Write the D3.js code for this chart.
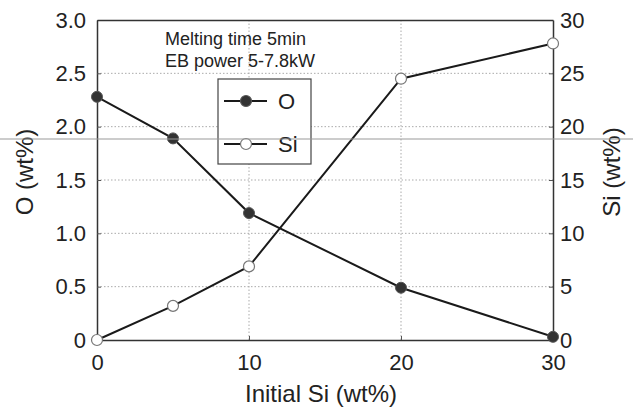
<!DOCTYPE html>
<html>
<head>
<meta charset="utf-8">
<script src="https://cdn.jsdelivr.net/npm/d3@7"></script>
<style>
  body { margin: 0; background: #fff; }
  svg { display: block; font-family: 'Liberation Sans', Arial, sans-serif; }
</style>
</head>
<body>
<div id="chart"></div>
<script>
// initial Si content (wt%)
const initialSi = [0, 5, 10, 20, 30];
// oxygen in product (wt%) - left axis
const oxygen = [2.28, 1.89, 1.19, 0.49, 0.03];
// silicon in product (wt%) - right axis
const silicon = [0, 3.2, 6.9, 24.5, 27.8];

const xTicks = [0, 10, 20, 30];
const oTicks = [0, 0.5, 1.0, 1.5, 2.0, 2.5, 3.0];
const siTicks = [0, 5, 10, 15, 20, 25, 30];

const width = 633;
const height = 410;
const margin = { top: 20, right: 80, bottom: 70, left: 97 };

const svg = d3.select('#chart')
  .append('svg')
  .attr('width', width)
  .attr('height', height);

const x = d3.scaleLinear().domain([0, 30]).range([margin.left, width - margin.right]);
const yO = d3.scaleLinear().domain([0, 3]).range([height - margin.bottom, margin.top]);
const ySi = d3.scaleLinear().domain([0, 30]).range([height - margin.bottom, margin.top]);

// dotted grid
const grid = svg.append('g')
  .attr('stroke', '#aaa')
  .attr('stroke-width', 1)
  .attr('stroke-dasharray', '1.5,2');
grid.selectAll('line.h')
  .data(oTicks.filter((d) => d > 0 && d < 3))
  .join('line')
  .attr('class', 'h')
  .attr('x1', x(0))
  .attr('x2', x(30))
  .attr('y1', (d) => yO(d))
  .attr('y2', (d) => yO(d));
grid.selectAll('line.v')
  .data(xTicks.filter((d) => d > 0 && d < 30))
  .join('line')
  .attr('class', 'v')
  .attr('y1', yO(0))
  .attr('y2', yO(3))
  .attr('x1', (d) => x(d))
  .attr('x2', (d) => x(d));

// axes
const fmtO = (d) => (d === 0 ? '0' : d3.format('.1f')(d));

svg.append('g')
  .attr('transform', `translate(${margin.left},0)`)
  .call(d3.axisLeft(yO).tickValues(oTicks).tickFormat(fmtO).tickSizeInner(-4).tickSizeOuter(0).tickPadding(11));

svg.append('g')
  .attr('transform', `translate(${width - margin.right},0)`)
  .call(d3.axisRight(ySi).tickValues(siTicks).tickSizeInner(-4).tickSizeOuter(0).tickPadding(7));

svg.append('g')
  .attr('transform', `translate(0,${height - margin.bottom})`)
  .call(d3.axisBottom(x).tickValues(xTicks).tickSizeInner(-4).tickSizeOuter(0).tickPadding(14));

svg.append('g')
  .attr('transform', `translate(0,${margin.top})`)
  .call(d3.axisTop(x).tickValues([]).tickSizeOuter(0));

svg.selectAll('.tick text')
  .attr('font-size', 22)
  .attr('font-family', "'Liberation Sans', Arial, sans-serif")
  .attr('fill', '#222');
svg.selectAll('.domain').attr('stroke', '#333').attr('stroke-width', 1.5);
svg.selectAll('.tick line').attr('stroke', '#555');

// axis titles
svg.append('text')
  .attr('transform', `translate(33,${(yO(0) + yO(3)) / 2 - 8}) rotate(-90)`)
  .attr('text-anchor', 'middle')
  .attr('font-size', 24)
  .attr('fill', '#222')
  .text('O (wt%)');

svg.append('text')
  .attr('transform', `translate(620,${(yO(0) + yO(3)) / 2 - 8}) rotate(-90)`)
  .attr('text-anchor', 'middle')
  .attr('font-size', 24)
  .attr('fill', '#222')
  .text('Si (wt%)');

svg.append('text')
  .attr('x', 321)
  .attr('y', 402)
  .attr('text-anchor', 'middle')
  .attr('font-size', 24)
  .attr('fill', '#222')
  .text('Initial Si (wt%)');

// annotation
const note = svg.append('text')
  .attr('font-size', 18)
  .attr('fill', '#222');
note.append('tspan').attr('x', 165).attr('y', 45).text('Melting time 5min');
note.append('tspan').attr('x', 165).attr('y', 67).text('EB power 5-7.8kW');

// lines
const lineO = d3.line().x((d, i) => x(initialSi[i])).y((d) => yO(d));
const lineSi = d3.line().x((d, i) => x(initialSi[i])).y((d) => ySi(d));

svg.append('path')
  .datum(oxygen)
  .attr('d', lineO)
  .attr('fill', 'none')
  .attr('stroke', '#1a1a1a')
  .attr('stroke-width', 2);

svg.append('path')
  .datum(silicon)
  .attr('d', lineSi)
  .attr('fill', 'none')
  .attr('stroke', '#1a1a1a')
  .attr('stroke-width', 2);

svg.selectAll('circle.o')
  .data(oxygen)
  .join('circle')
  .attr('class', 'o')
  .attr('cx', (d, i) => x(initialSi[i]))
  .attr('cy', (d) => yO(d))
  .attr('r', 5.5)
  .attr('fill', '#333')
  .attr('stroke', '#555')
  .attr('stroke-width', 1);

svg.selectAll('circle.si')
  .data(silicon)
  .join('circle')
  .attr('class', 'si')
  .attr('cx', (d, i) => x(initialSi[i]))
  .attr('cy', (d) => ySi(d))
  .attr('r', 5.5)
  .attr('fill', '#fff')
  .attr('stroke', '#777')
  .attr('stroke-width', 1.2);

// legend
const legend = svg.append('g').attr('transform', 'translate(218,79)');
legend.append('rect')
  .attr('width', 93)
  .attr('height', 85)
  .attr('fill', '#fff')
  .attr('stroke', '#444')
  .attr('stroke-width', 1.2);

const items = [
  { label: 'O', fill: '#333', stroke: '#555', y: 22 },
  { label: 'Si', fill: '#fff', stroke: '#777', y: 65 }
];
items.forEach((it) => {
  legend.append('line')
    .attr('x1', 6).attr('x2', 49)
    .attr('y1', it.y).attr('y2', it.y)
    .attr('stroke', '#1a1a1a').attr('stroke-width', 2);
  legend.append('circle')
    .attr('cx', 28).attr('cy', it.y).attr('r', 5.5)
    .attr('fill', it.fill).attr('stroke', it.stroke).attr('stroke-width', 1.2);
  legend.append('text')
    .attr('x', 60).attr('y', it.y + 8)
    .attr('font-size', 22)
    .attr('fill', '#222')
    .text(it.label);
});

// faint scanner line across the page
svg.append('line')
  .attr('x1', 0).attr('x2', width)
  .attr('y1', 139).attr('y2', 139)
  .attr('stroke', '#999')
  .attr('stroke-width', 1);
</script>
</body>
</html>
